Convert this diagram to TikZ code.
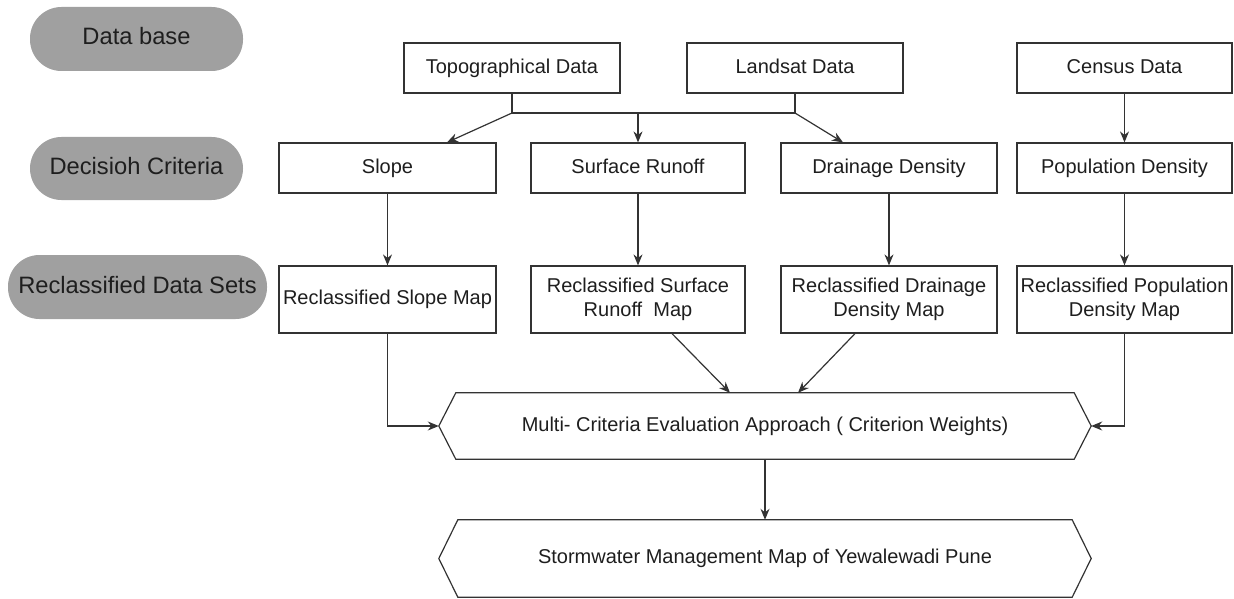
\documentclass[tikz,border=0pt]{standalone}
\usepackage{fontspec}
\setmainfont{Liberation Sans}
\usetikzlibrary{arrows.meta}
\definecolor{pillgray}{HTML}{A0A0A0}
\definecolor{linegray}{HTML}{333333}
\definecolor{txt}{HTML}{1E1E1E}
\begin{document}
\begin{tikzpicture}[x=1pt,y=-1pt,
  pill/.style={fill=pillgray, draw=none, rounded corners=31.5pt, minimum height=64pt,
    inner sep=0pt, text=txt, font=\fontsize{23.7}{28}\selectfont,
    text height=17pt, text depth=5pt},
  stepbox/.style={draw=linegray, line width=1.2pt, fill=white, text=txt, inner sep=0pt,
    minimum height=50pt, font=\fontsize{20}{24}\selectfont, align=center},
  onebox/.style={stepbox, text height=14.5pt, text depth=4pt},
  recbox/.style={stepbox, minimum height=67pt},
  hexlabel/.style={draw=none, inner sep=0pt, text=txt, font=\fontsize{20}{24}\selectfont,
    text height=14.5pt, text depth=4pt},
  conn/.style={draw=linegray, line width=1.2pt},
  arr/.style={conn, -{Stealth[length=11pt,width=9pt]}}
]
\useasboundingbox (0,0) rectangle (1234,599);
% row labels
\node[pill, minimum width=213pt] (p1) at (136.5,39) {Data base};
\node[pill, minimum width=213pt, minimum height=63pt] (p2) at (136.5,168.5) {Decisioh Criteria};
\node[pill, minimum width=259pt] (p3) at (137.5,287) {Reclassified Data Sets};
% top row
\node[onebox, minimum width=216pt] (topo) at (512,68) {Topographical Data};
\node[onebox, minimum width=216pt] (land) at (795,68) {Landsat Data};
\node[onebox, minimum width=215pt] (cens) at (1124.5,68) {Census Data};
% criteria row
\node[onebox, minimum width=217pt] (slope) at (387.5,168) {Slope};
\node[onebox, minimum width=214pt] (surf) at (638,168) {Surface Runoff};
\node[onebox, minimum width=216pt] (drain) at (889,168) {Drainage Density};
\node[onebox, minimum width=215pt] (pop) at (1124.5,168) {Population Density};
% reclassified row
\node[recbox, minimum width=217pt, text height=14.5pt, text depth=4pt] (rslope) at (387.5,299.5) {Reclassified Slope Map};
\node[recbox, minimum width=214pt] (rsurf) at (638,299.5) {Reclassified Surface\\Runoff\ \ Map};
\node[recbox, minimum width=216pt] (rdrain) at (889,299.5) {Reclassified Drainage\\Density Map};
\node[recbox, minimum width=215pt] (rpop) at (1124.5,299.5) {Reclassified Population\\Density Map};
% hexagons
\node[hexlabel, minimum width=618pt, minimum height=66pt] (mce) at (765,426) {Multi- Criteria Evaluation Approach ( Criterion Weights)};
\coordinate (mceL) at ([xshift=-17pt]mce.west);
\coordinate (mceR) at ([xshift=17pt]mce.east);
\draw[conn, line join=miter] (mce.north west) -- (mce.north east) -- (mceR) -- (mce.south east) -- (mce.south west) -- (mceL) -- cycle;
\node[hexlabel, minimum width=614pt, minimum height=77pt] (storm) at (765,558.5) {Stormwater Management Map of Yewalewadi Pune};
\coordinate (stL) at ([xshift=-19pt]storm.west);
\coordinate (stR) at ([xshift=19pt]storm.east);
\draw[conn, line join=miter] (storm.north west) -- (storm.north east) -- (stR) -- (storm.south east) -- (storm.south west) -- (stL) -- cycle;
% bus from data sources
\coordinate (busL) at (topo.south |- 0,113);
\coordinate (busR) at (land.south |- 0,113);
\coordinate (busM) at (surf.north |- 0,113);
\draw[conn] (topo.south) -- (busL) -- (busR) -- (land.south);
\draw[arr] (busL) -- ([xshift=-65pt]topo.south |- slope.north);
\draw[arr] (busM) -- (surf.north);
\draw[arr] (busR) -- ([xshift=-46pt]drain.north);
\draw[arr] (cens) -- (pop);
% criteria -> reclassified
\draw[arr] (slope) -- (rslope);
\draw[arr] (surf) -- (rsurf);
\draw[arr] (drain) -- (rdrain);
\draw[arr] (pop) -- (rpop);
% reclassified -> MCE
\draw[arr] (rslope.south) |- (mceL);
\draw[arr] ([xshift=34pt]rsurf.south) -- ([xshift=-35pt]mce.north);
\draw[arr] ([xshift=-34pt]rdrain.south) -- ([xshift=33pt]mce.north);
\draw[arr] (rpop.south) |- (mceR);
\draw[arr] (mce.south) -- (storm.north);
\end{tikzpicture}
\end{document}
